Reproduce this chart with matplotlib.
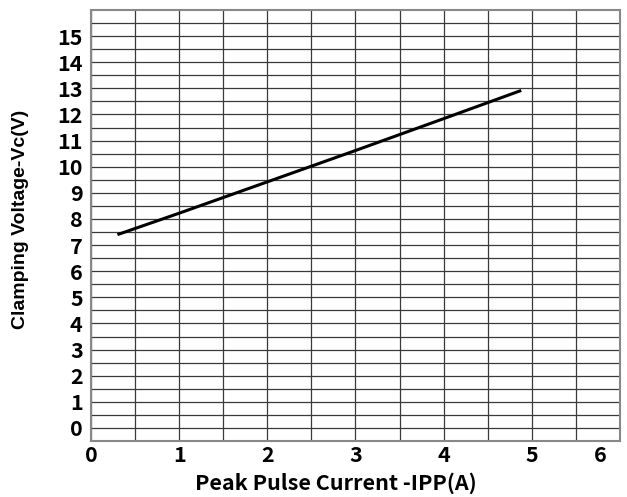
import numpy as np
import matplotlib.pyplot as plt
from matplotlib.transforms import ScaledTranslation

# Curva Vc frente a Ipp
ipp = [0.3, 1.0, 2.0, 3.0, 4.0, 4.88]
vc = [7.4, 8.22, 9.42, 10.62, 11.84, 12.92]

x_ticks = [0, 1, 2, 3, 4, 5, 6]
y_ticks = list(range(0, 16))

cjk = ['Noto Sans CJK SC', 'DejaVu Sans']

fig = plt.figure(figsize=(6.27, 4.97), dpi=100)
ax = fig.add_axes([0.1451, 0.1127, 0.8437, 0.8672])

ax.plot(ipp, vc, color='black', lw=2.2, solid_capstyle='butt', zorder=3)

ax.set_xlim(0, 6)
ax.set_ylim(-0.5, 16)
ax.set_xticks(x_ticks)
ax.set_yticks(y_ticks)
ax.set_xticks(np.arange(0.5, 6, 1.0), minor=True)
ax.set_yticks(np.arange(-0.5, 16, 1.0), minor=True)
ax.grid(True, which='both', color='#3a3a3a', lw=0.9)
ax.tick_params(which='both', length=0)
ax.tick_params(axis='y', pad=6)
ax.tick_params(axis='x', pad=3)

for lab in ax.get_xticklabels() + ax.get_yticklabels():
    lab.set_fontfamily(cjk)
    lab.set_fontweight('bold')
    lab.set_fontsize(15.5)

# el "6" va desplazado a la izquierda en el original
last = ax.get_xticklabels()[-1]
last.set_transform(last.get_transform() + ScaledTranslation(-20 / 100, 0, fig.dpi_scale_trans))

for s in ax.spines.values():
    s.set_color('#888888')
    s.set_linewidth(1.5)

ax.set_ylabel('Clamping Voltage-Vc(V)', family='Liberation Sans', weight='bold', fontsize=14)
ax.set_xlabel('Peak Pulse Current -IPP(A)', family=cjk, weight='bold', fontsize=15.5)
ax.yaxis.set_label_coords(-0.118, 0.515)
ax.xaxis.set_label_coords(0.463, -0.072)

fig.savefig('out.png', dpi=100)
